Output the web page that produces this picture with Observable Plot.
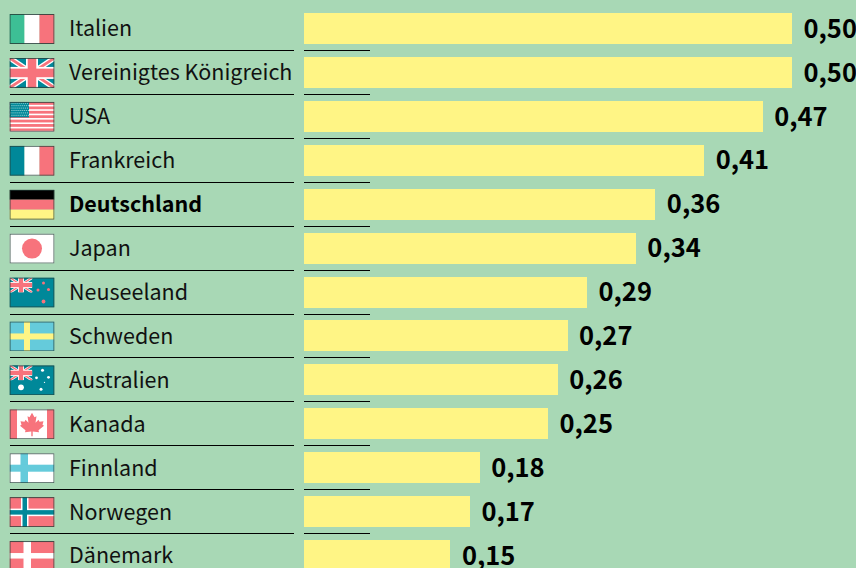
<!DOCTYPE html>
<html lang="de">
<head>
<meta charset="utf-8">
<script src="https://cdn.jsdelivr.net/npm/d3@7"></script>
<script src="https://cdn.jsdelivr.net/npm/@observablehq/plot@0.6"></script>
<style>
html,body{margin:0;padding:0;background:#a8d8b5;overflow:hidden}
svg{display:block}
</style>
</head>
<body>
<div id="chart"></div>
<script>
const countries = ["Italien","Vereinigtes Königreich","USA","Frankreich","Deutschland","Japan","Neuseeland","Schweden","Australien","Kanada","Finnland","Norwegen","Dänemark"];
const values = [0.50,0.50,0.47,0.41,0.36,0.34,0.29,0.27,0.26,0.25,0.18,0.17,0.15];
const flagKeys = ["it","uk","us","fr","de","jp","nz","se","au","ca","fi","no","dk"];
const highlighted = ["Deutschland"];

const RED="#f7737c", TEAL="#008899", GREEN="#3dbf95", SKY="#65cbdb", YEL="#fff585", W="#fff";
const R=(x,y,w,h,f)=>`<rect x="${x}" y="${y}" width="${w}" height="${h}" fill="${f}"/>`;
const C=(x,y,r,f)=>`<circle cx="${x}" cy="${y}" r="${r}" fill="${f}"/>`;
const jack=(w,h)=>{
  const sw=h/5.5;
  return R(0,0,w,h,TEAL)+
  `<path d="M0 0L${w} ${h}M${w} 0L0 ${h}" stroke="${W}" stroke-width="${sw}"/>`+
  `<path d="M0 0L${w} ${h}M${w} 0L0 ${h}" stroke="${RED}" stroke-width="${sw/2}"/>`+
  R(w/2-h/5,0,h*2/5,h,W)+R(0,h/2-h/5,w,h*2/5,W)+
  R(w/2-h/7,0,h*2/7,h,RED)+R(0,h/2-h/7,w,h*2/7,RED);
};
const usStripes=()=>{
  let s=R(0,0,45,30,RED);
  for(const y of [3,7.4,11.8,16.2,20.6,25,29]) s+=R(0,y,45,1.6,W);
  s+=R(0,0,19.5,15.5,TEAL);
  for(let r=0;r<6;r++)for(let c=0;c<9;c++) s+=R(1+c*2.05+(r%2),1+r*2.4,.9,.9,"#cfeee8");
  return s;
};
const flagSvg={
  it:R(0,0,15,30,GREEN)+R(15,0,15,30,W)+R(30,0,15,30,RED),
  uk:jack(45,30),
  us:usStripes(),
  fr:R(0,0,15,30,TEAL)+R(15,0,15,30,W)+R(30,0,15,30,RED),
  de:R(0,0,45,10,"#000")+R(0,10,45,10,RED)+R(0,20,45,10,YEL),
  jp:R(0,0,45,30,W)+C(22.5,15,10,RED),
  nz:R(0,0,45,30,TEAL)+`<svg x="0" y="0" width="23" height="15" viewBox="0 0 45 30">${jack(45,30)}</svg>`+
     C(34,5.5,1.5,RED)+C(39,12,1.5,RED)+C(28.5,12.5,1.5,RED)+C(34,24,1.9,RED),
  se:R(0,0,45,30,SKY)+R(14.5,0,6,30,YEL)+R(0,12,45,6,YEL),
  au:R(0,0,45,30,TEAL)+`<svg x="0" y="0" width="23" height="15" viewBox="0 0 45 30">${jack(45,30)}</svg>`+
     C(33,5,1.5,W)+C(39,12,1.4,W)+C(27,12.5,1.4,W)+C(31.5,24,1.5,W)+C(35,17,.7,W)+C(11.5,22,2.9,W),
  ca:R(0,0,45,30,W)+R(0,0,7.5,30,RED)+R(37.5,0,7.5,30,RED)+
     `<path fill="${RED}" d="M22.5 3.5L25 8L27 7L26 13.5L29 10.5L30 12.5L34 12L33 15.5L34.5 16.5L29 21L29.5 23L23.2 22.3V27H21.8V22.3L15.5 23L16 21L10.5 16.5L12 15.5L11 12L15 12.5L16 10.5L19 13.5L18 7L20 8Z"/>`,
  fi:R(0,0,45,30,W)+R(11,0,7.5,30,SKY)+R(0,11.5,45,7,SKY),
  no:R(0,0,45,30,RED)+R(11.5,0,7.5,30,W)+R(0,11.5,45,7.5,W)+R(13,0,4.5,30,TEAL)+R(0,13,45,4.5,TEAL),
  dk:R(0,0,45,30,RED)+R(14,0,7.5,30,W)+R(0,12,45,5.5,W)
};
const flagUri=k=>"data:image/svg+xml;charset=utf-8,"+encodeURIComponent(
  `<svg xmlns="http://www.w3.org/2000/svg" width="45" height="30" viewBox="0 0 45 30">${flagSvg[k]}<rect x=".5" y=".5" width="44" height="29" fill="none" stroke="#26403a" stroke-opacity=".85"/></svg>`);

const rows=countries.map((name,i)=>({name,value:values[i],flag:flagKeys[i]}));
const fmt=v=>v.toFixed(2).replace(".",",");
const FONT="'Noto Sans CJK SC','Noto Sans',sans-serif";
const STEP=43.92, FIRST=28.5;

const chart=Plot.plot({
  width:856,height:568,
  marginTop:0,marginRight:0,marginBottom:0,marginLeft:0,
  style:{background:"#a8d8b5",fontFamily:FONT,overflow:"hidden"},
  x:{axis:null,domain:[0,0.5],range:[304,792]},
  y:{axis:null,type:"band",domain:countries,padding:0,align:0,round:false,
     range:[FIRST-STEP/2,FIRST+STEP*(countries.length-.5)]},
  marks:[
    Plot.barX(rows,{x:"value",y:"name",fill:YEL,insetTop:6.46,insetBottom:6.46,shapeRendering:"crispEdges"}),
    Plot.ruleY(rows,{y:"name",dy:21.5,stroke:"#000",strokeWidth:1,insetLeft:10,insetRight:562,shapeRendering:"crispEdges"}),
    Plot.ruleY(rows,{y:"name",dy:21.5,stroke:"#000",strokeWidth:1,insetLeft:304,insetRight:486,shapeRendering:"crispEdges"}),
    Plot.image(rows,{y:"name",frameAnchor:"left",dx:31.5,width:45,height:30,src:d=>flagUri(d.flag)}),
    Plot.text(rows.filter(d=>!highlighted.includes(d.name)),{y:"name",text:"name",frameAnchor:"left",dx:68.5,dy:0.5,textAnchor:"start",fontSize:21.5,fill:"#111"}),
    Plot.text(rows.filter(d=>highlighted.includes(d.name)),{y:"name",text:"name",frameAnchor:"left",dx:68.5,dy:0.5,textAnchor:"start",fontSize:21.5,fontWeight:700,fill:"#000"}),
    Plot.text(rows,{x:"value",y:"name",text:d=>fmt(d.value),dx:11,dy:0.5,textAnchor:"start",fontSize:25.5,fontWeight:700,fill:"#000"})
  ]
});
document.getElementById("chart").append(chart);
</script>
</body>
</html>
